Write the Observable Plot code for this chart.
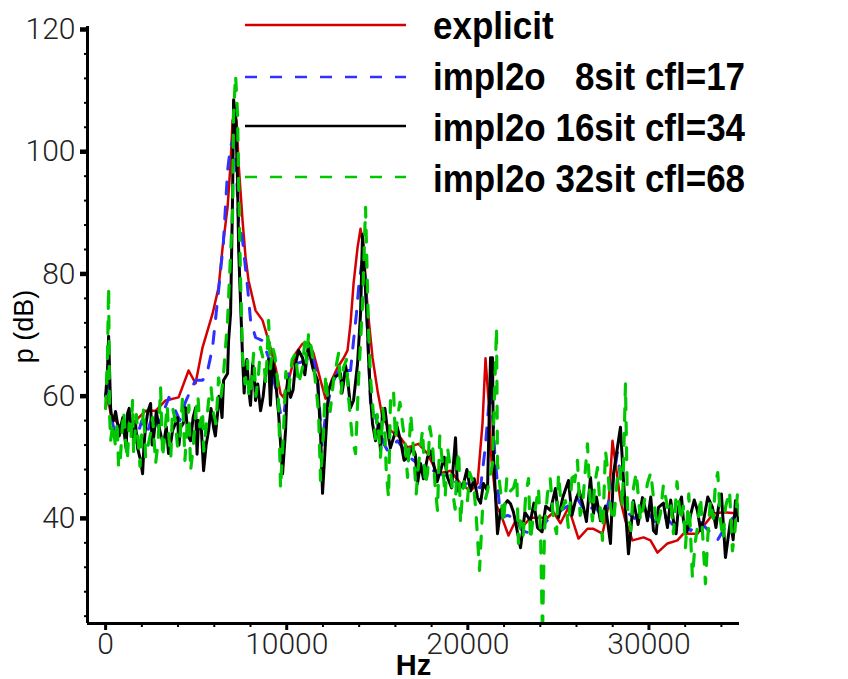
<!DOCTYPE html>
<html><head><meta charset="utf-8">
<script src="https://cdn.jsdelivr.net/npm/d3@7"></script>
<script src="https://cdn.jsdelivr.net/npm/@observablehq/plot@0.6"></script>
<style>
html,body{margin:0;padding:0;background:#fff;}
#wrap{position:relative;width:848px;height:679px;overflow:hidden;}
#legend{position:absolute;left:0;top:0;pointer-events:none;}
#wrap g[aria-label="x-axis tick label"] text, #wrap g[aria-label="y-axis tick label"] text{font-family:Roboto,"Liberation Sans",sans-serif;font-weight:300;font-size:30px;fill:#222;}
#wrap g[aria-label="x-axis label"] text{font-family:"Liberation Sans",Arial,sans-serif;font-weight:bold;font-size:29px;fill:#000;}
#wrap g[aria-label="y-axis label"] text{font-family:"Liberation Sans",Arial,sans-serif;font-weight:normal;font-size:27px;fill:#000;}
#legend text{font-family:"Liberation Sans",Arial,sans-serif;font-weight:bold;font-size:35px;white-space:pre;}
</style></head><body><div id="wrap"></div>
<script>
const seriesNames = ["explicit", "impl2o   8sit cfl=17", "impl2o 16sit cfl=34", "impl2o 32sit cfl=68"];
const seriesColors = ["#d40000", "#3030ff", "#000000", "#00c800"];

const explicitData = [[0,58],[100,60],[276,57.2],[552,56.0],[938,54.4],[1270,55.2],[1656,56.0],[2208,57.6],[2760,57.6],[3312,59.3],
[4030,59.8],[4582,64.2],[4968,62.1],[5354,68.0],[5906,73.5],[6238,77.8],[6458,84.3],[6734,90.9],[6900,98.1],[7010,105.1],
[7121,105.9],[7231,105.1],[7342,98.1],[7562,88.7],[7728,82.7],[7894,78.9],[8280,74.0],[8666,72.4],[8998,69.1],[9384,64.7],
[9660,60.4],[9826,59.8],[10102,62.6],[10488,67.0],[10874,68.6],[11206,68.8],[11482,67.0],[11868,62.6],[12144,59.6],[12475,62.6],
[12806,64.7],[13138,66.2],[13358,67.5],[13524,71.9],[13690,78.4],[13910,84.3],[14076,87.4],[14242,84.3],[14462,74.5],[14738,66.3],
[15014,60.9],[15290,56.5],[15732,54.4],[16284,53.2],[16670,51.6],[17278,52.2],[17774,50.6],[18326,47.3],[19044,47.8],[19596,45.7],
[20148,44.5],[20534,45.7],[20810,55.5],[20976,66.2],[21142,59.3],[21307,49.5],[21583,42.1],[21804,40.8],[22246,37.2],[22632,39.6],
[23074,38.8],[23460,40.1],[23846,40.1],[24398,40.1],[24730,41.0],[25116,39.2],[25558,41.8],[26110,36.7],[26606,38.3],[26938,38.3],
[27434,37.5],[27766,42.1],[27986,52.7],[28207,47.8],[28428,42.9],[28704,39.6],[29090,36.4],[29698,36.9],[30084,36.4],[30470,34.4],
[31022,35.9],[31574,36.4],[31906,37.5],[32678,37.5],[33562,40.8],[34114,41.0],[34942,40.8]];

const impl8Data = [[0,60],[150,62],[300,57],[550,53.2],[800,55],[1100,54],[1400,55.5],[1700,53],[2000,56],[2300,54],[2600,57],[2900,55],
[3200,57.5],[3500,59.8],[3800,58],[4100,56],[4400,59],[4700,61],[4968,62.6],[5354,62.6],[5600,63.7],[5906,68],[6238,77.3],[6500,85],
[6734,96.9],[6900,101],[7066,102],[7176,100],[7342,88.7],[7562,85.5],[7838,77.8],[8004,72.4],[8280,69.6],[8666,69.1],[8998,66.3],
[9384,61.4],[9660,57.2],[9826,56.5],[10102,63.7],[10488,65.3],[11040,65.8],[11400,67],[11700,63],[11950,52],[12150,57],[12500,62],
[12900,64.5],[13300,64.2],[13524,64.2],[13690,69.1],[13850,73.5],[13990,78.4],[14186,82.7],[14350,79],[14500,68],[14628,58.8],
[14904,56.5],[15400,52],[15566,51.1],[16118,52.7],[16800,50.0],[17400,48.5],[18106,47.8],[18700,47],[19044,46.7],[19500,45.5],
[19982,45.7],[20700,45],[20976,52],[21142,58.1],[21300,60.9],[21500,50],[21638,45.7],[21804,40.1],[22200,40.5],[22600,40],[23000,38],
[23500,37.5],[24000,38.5],[24500,40],[25000,41],[25500,42],[26000,43.5],[26500,41],[27000,42],[27500,40],[27900,44],[28262,50.8],
[28500,45],[28800,41],[29200,40],[29800,41.5],[30300,39.5],[30800,40.5],[31300,39],[31800,40],[32300,38],[32800,39.5],[33300,38],
[33800,36.5],[34300,39],[34942,41]];

const impl16Data = [[0,60],[100,64],[166,69.8],[276,58.1],[330,56.5],[442,56.0],[550,57.5],[662,55.5],[750,53.5],[828,54.9],[950,56.5],
[1049,53.5],[1130,51.5],[1214,57.2],[1300,58],[1380,55.8],[1546,53.2],[1650,55.5],[1766,51.5],[1932,49.5],[2042,47.3],[2120,52],
[2208,55.0],[2330,57.5],[2484,58.8],[2570,52],[2650,53.2],[2800,57.5],[2926,55.3],[3060,53.5],[3202,52.2],[3350,55],[3478,50.6],
[3580,52],[3698,54.4],[3850,55.5],[3974,56.5],[4050,52],[4140,54.9],[4280,55.5],[4416,58.1],[4550,53.5],[4692,52.7],[4830,56.5],
[4968,58.1],[5050,50.5],[5134,56.0],[5270,55.5],[5410,47.8],[5550,52],[5686,54.4],[5820,58],[5962,54.9],[6060,53.5],[6182,57.2],
[6260,60],[6348,58.8],[6430,56.5],[6514,62.6],[6734,63.7],[6790,69.1],[6900,73.5],[7010,92.5],[7066,108.5],[7176,106.2],[7286,95.3],
[7342,84.3],[7562,66.3],[7650,60.5],[7728,64.7],[7800,66],[7894,61.4],[8000,58.5],[8114,65.3],[8200,64],[8280,59.3],[8400,62],
[8556,57.6],[8700,60],[8832,63.7],[9000,66],[9100,58.5],[9218,65.8],[9300,64.5],[9384,62.6],[9550,57.2],[9770,47.3],[9936,54.4],
[10050,63],[10212,59.8],[10350,61],[10488,65.3],[10650,67.5],[10874,66.3],[11000,63.5],[11206,68.6],[11316,66.3],[11450,64.5],
[11702,62.6],[11868,53.9],[11978,44.1],[12144,52.7],[12310,60.9],[12586,63.0],[12972,63.7],[13050,60.5],[13138,62.1],[13250,65],
[13358,63.0],[13524,58.1],[13690,59.3],[13910,65.3],[14076,73.5],[14186,86.5],[14352,77.3],[14462,70.7],[14518,66.3],[14628,59.8],
[14738,55.5],[14904,52.7],[15070,55.5],[15180,51],[15290,57.6],[15420,58],[15566,54.4],[15720,51.5],[15898,53.2],[16100,55],
[16284,52.7],[16480,49.5],[16670,50.0],[16946,51.6],[17100,50.5],[17222,45.7],[17388,49.0],[17550,46.5],[17774,50.0],[17950,51],
[18106,49.0],[18300,46],[18492,47.8],[18700,50],[18878,46.7],[19100,45],[19320,53.2],[19430,44.5],[19762,45.7],[19950,48],
[20148,44.5],[20350,46.5],[20534,43.4],[20700,42.5],[20866,45.7],[21086,44.5],[21252,66.3],[21362,66.3],[21418,50.0],[21638,37.5],
[21804,41.3],[22190,42.9],[22356,42.4],[22522,41.0],[22908,35.2],[23150,41],[23460,39.6],[23650,42.5],[23846,38.5],[24100,37.8],
[24300,42],[24564,41.3],[24840,44.9],[25006,40.1],[25250,43.5],[25558,46.2],[25750,40.5],[25944,42.9],[26150,44.5],[26386,41.8],
[26550,39.5],[26772,46.7],[26938,40.8],[27100,43.5],[27324,39.6],[27600,42.0],[27876,35.9],[28042,47.3],[28428,54.9],[28594,46.2],
[28870,34.2],[29146,42.9],[29400,39],[29642,43.4],[29800,41.5],[29918,39.6],[30100,43.5],[30250,38.0],[30400,37.5],[30526,41.8],
[30800,42.5],[31022,38.5],[31200,43],[31354,39.6],[31500,37.5],[31630,41.8],[31800,43.5],[31906,39.6],[32100,37.8],[32292,40.5],
[32500,43],[32678,41.3],[32850,38],[33010,39.6],[33250,43.5],[33506,41.8],[33700,38.5],[33838,41.8],[34000,44],[34224,33.6],
[34500,39.6],[34650,36.5],[34776,42.9],[34942,39.6]];

const impl32Data = [[0,58],[100,66],[166,77.8],[220,57.2],[276,52.7],[400,55.5],[552,51.6],[630,56],[718,48.3],[800,49],[900,54],
[1000,57.5],[1104,52.7],[1200,49.5],[1300,55.5],[1400,53],[1490,59.3],[1546,50.6],[1700,57],[1822,51.6],[1900,48.5],[2000,54.5],
[2100,58],[2208,50.0],[2350,52],[2484,53.9],[2600,56.5],[2760,49.0],[2900,52.5],[3036,61.4],[3150,50],[3312,55.5],[3400,58.5],
[3500,53],[3600,50],[3698,58.1],[3850,56],[3974,51.6],[4100,53],[4250,59.8],[4380,49.5],[4500,55],[4600,58.5],[4692,47.8],[4850,52],
[4968,57.2],[5100,60],[5200,55],[5354,57.6],[5420,51],[5500,53.5],[5600,56.5],[5686,59.3],[5820,61.5],[5962,57.2],[6100,55.5],
[6238,63.0],[6380,60],[6514,63.7],[6734,72.4],[6900,83.3],[7010,89.9],[7066,106.2],[7176,112.5],[7286,106.0],[7342,95.3],[7452,78.9],
[7562,66.3],[7700,62],[7838,65.8],[7900,60.5],[8004,59.8],[8100,64],[8170,67.0],[8300,60],[8446,63.7],[8550,68],[8722,65.8],
[8850,62],[8998,72.4],[9100,64.5],[9218,68.0],[9350,66.5],[9494,62.6],[9560,58],[9660,44.9],[9826,54.4],[9950,64],[10102,60.9],
[10300,66],[10488,67.0],[10650,62],[10874,64.7],[11000,69],[11100,65.5],[11206,70.2],[11350,68],[11482,65.3],[11650,60.5],
[11758,57.2],[11868,46.2],[12034,54.4],[12150,63.5],[12254,59.8],[12400,57.5],[12586,62.6],[12700,64.5],[12862,67.0],[13000,60.5],
[13138,64.7],[13300,66],[13414,59.8],[13634,52.7],[13800,50.6],[13966,62.6],[14186,75],[14352,90.9],[14462,77.3],[14518,70.7],
[14628,63.0],[14738,58.8],[14900,53],[15000,57],[15180,50.0],[15300,58],[15400,55.5],[15500,47.5],[15622,43.4],[15732,59.8],
[15898,60.9],[16000,53],[16118,56.5],[16250,59],[16394,55.5],[16550,52],[16670,46.7],[16850,57],[17002,51.1],[17150,44],[17250,48],
[17400,52],[17498,54.4],[17650,45.5],[17774,47.3],[17900,55],[18050,52.2],[18200,45],[18326,41.3],[18450,53.5],[18602,49.0],
[18750,43.5],[18878,51.6],[19000,49],[19154,44.5],[19300,41.5],[19400,48.5],[19500,51],[19596,39.2],[19700,44],[19800,46],
[19982,42.9],[20100,47.5],[20314,45.7],[20450,41],[20645,31.5],[20810,41.3],[21086,44.5],[21362,49.0],[21583,71.2],[21638,49.0],
[21804,44.5],[21970,39.2],[22150,46.5],[22356,44.5],[22522,45.0],[22700,47],[22798,35.9],[22908,39.6],[23050,37],[23200,44],
[23350,46.5],[23460,36.4],[23600,40],[23736,41.8],[23900,45],[24012,38],[24122,21],[24233,38],[24398,44.1],[24550,46.5],[24730,39.6],
[24900,37.5],[25006,47.3],[25100,44],[25200,41.5],[25392,42.9],[25550,38.5],[25778,47.8],[25900,46],[26054,49.5],[26200,40.5],
[26330,41.8],[26450,46.5],[26606,52.2],[26750,43],[26882,39.6],[27000,45.5],[27158,48.3],[27300,42],[27434,36.4],[27600,51.1],
[27750,47],[27876,41.8],[28050,39.5],[28262,46.7],[28400,48.5],[28538,42],[28704,62.0],[28814,41.8],[29000,38],[29146,45.0],
[29300,47.5],[29532,39.6],[29700,42],[29918,45.7],[30100,47.5],[30250,43.4],[30450,38.5],[30636,40.8],[30800,45.5],[31022,41.8],
[31200,43],[31354,37.5],[31550,46],[31740,39.6],[31900,42],[32016,35.2],[32200,44],[32402,30.3],[32550,36],[32678,38.5],[32850,43.5],
[33120,29.3],[33250,37],[33396,42.9],[33550,40],[33672,45.7],[33800,47.5],[33948,39.6],[34100,36.5],[34224,41.8],[34450,44.5],
[34610,34.7],[34750,38],[34886,44.1],[35000,40.5]];

const xDomain = [-1000, 35000];
const yDomain = [22.8, 120];
const xMajorTicks = [0, 10000, 20000, 30000];
const xMinorTicks = [2000, 4000, 6000, 8000, 12000, 14000, 16000, 18000, 22000, 24000, 26000, 28000, 32000, 34000];
const yMajorTicks = [40, 60, 80, 100, 120];
const yMinorTicks = [24, 28, 32, 36, 44, 48, 52, 56, 64, 68, 72, 76, 84, 88, 92, 96, 104, 108, 112, 116];

const allSeries = [explicitData, impl8Data, impl16Data, impl32Data];
const toRows = (pairs) => pairs.map(([hz, db]) => ({hz, db})).sort((a, b) => a.hz - b.hz);
const dashes = [null, "12,13", null, "12,13"];
const widths = [2.5, 3, 3, 3.2];

const lineMarks = allSeries.map((s, i) => Plot.line(toRows(s), {
  x: "hz", y: "db", stroke: seriesColors[i], strokeWidth: widths[i],
  strokeDasharray: dashes[i] || undefined, clip: true
}));

const chart = Plot.plot({
  width: 848, height: 679,
  marginLeft: 87, marginRight: 109, marginTop: 29, marginBottom: 56,
  x: {domain: xDomain},
  y: {domain: yDomain},
  style: {background: "#fff", overflow: "visible", fontFamily: "Liberation Sans, Arial, sans-serif"},
  marks: [
    ...lineMarks,
    Plot.ruleX([xDomain[0]], {stroke: "#000", strokeWidth: 3, y1: yDomain[0], y2: 120.5}),
    Plot.ruleY([yDomain[0]], {stroke: "#000", strokeWidth: 3}),
    Plot.axisY(yMinorTicks, {tickSize: 3, strokeWidth: 2, tickFormat: () => "", label: null}),
    Plot.axisY(yMajorTicks, {tickSize: 7, strokeWidth: 4.5, tickPadding: 5, tickFormat: d => String(d),
      label: "p (dB)", labelAnchor: "center", labelOffset: 74, labelArrow: "none"}),
    Plot.axisX(xMinorTicks, {tickSize: 4, strokeWidth: 2, tickFormat: () => "", label: null}),
    Plot.axisX(xMajorTicks, {tickSize: 7, strokeWidth: 3, tickPadding: 2, tickFormat: d => String(d),
      label: "Hz", labelAnchor: "center", labelOffset: 51, labelArrow: "none"})
  ]
});
document.getElementById("wrap").appendChild(chart);

// legend overlay
const ns = "http://www.w3.org/2000/svg";
const leg = document.createElementNS(ns, "svg");
leg.setAttribute("id", "legend");
leg.setAttribute("width", 848);
leg.setAttribute("height", 210);
const lineYs = [25, 77, 126, 177];
const baseYs = [39, 90, 141, 192];
seriesNames.forEach((name, i) => {
  const l = document.createElementNS(ns, "line");
  l.setAttribute("x1", 245); l.setAttribute("x2", 406);
  l.setAttribute("y1", lineYs[i]); l.setAttribute("y2", lineYs[i]);
  l.setAttribute("stroke", seriesColors[i]);
  l.setAttribute("stroke-width", 2.6);
  if (dashes[i]) l.setAttribute("stroke-dasharray", dashes[i]);
  leg.appendChild(l);
  const t = document.createElementNS(ns, "text");
  t.setAttribute("transform", `translate(433,${baseYs[i]}) scale(1,1.12)`);
  t.setAttributeNS("http://www.w3.org/XML/1998/namespace", "xml:space", "preserve");
  t.textContent = name;
  leg.appendChild(t);
});
document.getElementById("wrap").appendChild(leg);
</script>
</body></html>
